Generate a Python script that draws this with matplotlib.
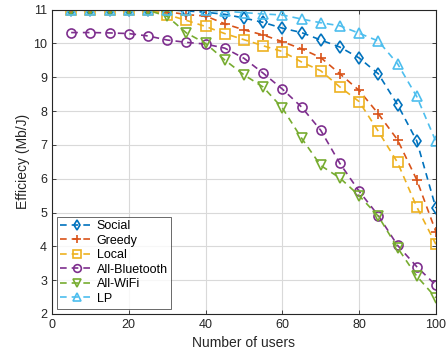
import matplotlib
matplotlib.use("Agg")
import matplotlib.pyplot as plt

plt.rcParams['font.family'] = ['Liberation Sans', 'DejaVu Sans']

users = [5, 10, 15, 20, 25, 30, 35, 40, 45, 50, 55, 60, 65, 70, 75, 80, 85, 90, 95, 100]

social = [11.0, 11.0, 11.0, 11.0, 11.0, 11.0, 10.96, 10.92, 10.86, 10.75, 10.62, 10.45, 10.32, 10.10, 9.89, 9.57, 9.10, 8.19, 7.12, 5.13]
greedy = [11.0, 11.0, 11.0, 11.0, 11.0, 10.94, 10.85, 10.81, 10.58, 10.40, 10.25, 10.05, 9.84, 9.58, 9.10, 8.61, 7.92, 7.15, 5.97, 4.43]
local = [11.0, 11.0, 11.0, 11.0, 11.0, 10.85, 10.68, 10.50, 10.29, 10.11, 9.93, 9.76, 9.45, 9.19, 8.71, 8.28, 7.40, 6.48, 5.17, 4.06]
bluetooth = [10.32, 10.32, 10.31, 10.29, 10.22, 10.10, 10.03, 9.98, 9.86, 9.56, 9.12, 8.65, 8.12, 7.43, 6.45, 5.63, 4.91, 4.03, 3.40, 2.85]
wifi = [10.98, 10.98, 10.98, 10.98, 10.98, 10.80, 10.31, 10.00, 9.51, 9.07, 8.71, 8.09, 7.20, 6.39, 6.02, 5.50, 4.89, 3.96, 3.12, 2.48]
lp = [11.0, 11.0, 11.0, 11.0, 11.0, 11.0, 11.0, 10.98, 10.95, 10.91, 10.87, 10.84, 10.72, 10.61, 10.52, 10.30, 10.07, 9.40, 8.43, 7.10]

labels = ['Social', 'Greedy', 'Local', 'All-Bluetooth', 'All-WiFi', 'LP']
series = [social, greedy, local, bluetooth, wifi, lp]
markers = ['d', '+', 's', 'o', 'v', '^']
colors = [(0, 0.447, 0.741), (0.85, 0.325, 0.098), (0.929, 0.694, 0.125),
          (0.494, 0.184, 0.556), (0.466, 0.674, 0.188), (0.301, 0.745, 0.933)]

fig = plt.figure(figsize=(4.48, 3.54), dpi=100)
ax = fig.add_axes([0.116, 0.113, 0.857, 0.860])

for y, lab, m, c in zip(series, labels, markers, colors):
    ax.plot(users, y, linestyle=(0, (4, 3)), marker=m, color=c, label=lab,
            linewidth=1.2, markersize=6.5, markerfacecolor='none',
            markeredgewidth=1.2)

ax.set_xlim(0, 100)
ax.set_ylim(2, 11)
ax.set_xticks([0, 20, 40, 60, 80, 100])
ax.set_yticks(range(2, 12))
ax.grid(True, color=(0.85, 0.85, 0.85), linewidth=0.8)
ax.set_axisbelow(True)
ax.tick_params(direction='in', top=True, right=True, labelsize=9,
               colors=(0.15, 0.15, 0.15), length=3, width=0.6)
for s in ax.spines.values():
    s.set_color((0.15, 0.15, 0.15))
    s.set_linewidth(0.8)
ax.set_xlabel('Number of users', fontsize=10, color=(0.15, 0.15, 0.15), labelpad=4)
ax.set_ylabel('Efficiecy (Mb/J)', fontsize=10, color=(0.15, 0.15, 0.15), labelpad=2)

leg = ax.legend(loc='lower left', bbox_to_anchor=(0.012, 0.018), fontsize=9,
                frameon=True, fancybox=False, edgecolor=(0.15, 0.15, 0.15),
                handlelength=2.6, handletextpad=0.3, borderpad=0.3,
                labelspacing=0.2, borderaxespad=0, markerscale=0.85)
leg.get_frame().set_linewidth(0.6)

fig.savefig('out.png', dpi=100)
